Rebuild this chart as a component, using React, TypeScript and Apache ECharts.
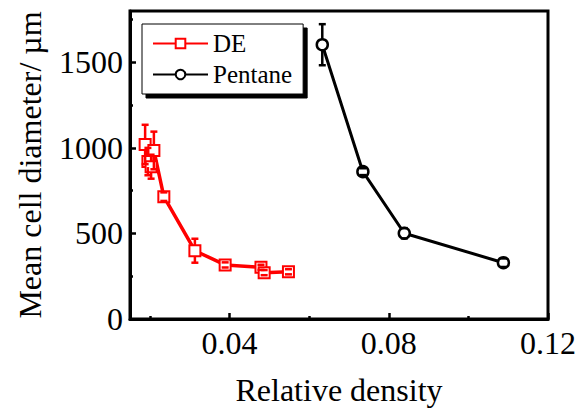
import React, { useEffect, useRef } from "react";
import * as echarts from "echarts";

// DE series (red squares)
const deX = [0.0188, 0.0195, 0.0203, 0.021, 0.0235, 0.0313, 0.0389, 0.0479, 0.0487, 0.0548];
const deY = [1020, 920, 890, 985, 715, 399, 316, 302, 271, 276];
const deErr = [115, 80, 70, 110, 25, 70, 15, 15, 15, 15];
// Pentane series (black circles)
const peX = [0.0633, 0.0735, 0.0839, 0.1088];
const peY = [1603, 861, 501, 329];
const peErr = [120, 20, 30, 25];
// ticks
const xLabels = [0.04, 0.08, 0.12];
const xMinor = [0.02, 0.06, 0.1];
const yLabels = [0, 500, 1000, 1500];
const yMinor = [250, 750, 1250, 1750];

const FONT = "'Times New Roman', 'Liberation Serif', serif";

function errSeries(xs: number[], ys: number[], es: number[], color: string) {
  return {
    type: "custom",
    z: 5,
    silent: true,
    encode: { x: 0, y: 1 },
    data: xs.map((x, i) => [x, ys[i], es[i]]),
    renderItem: (params: any, api: any) => {
      const x = api.value(0);
      const y = api.value(1);
      const e = api.value(2);
      const c = api.coord([x, y]);
      const t = api.coord([x, y + e]);
      const b = api.coord([x, y - e]);
      const half = 5.5;
      const cap = 3.5;
      const st = { stroke: color, lineWidth: 2.5 };
      const children: any[] = [];
      if (t[1] < c[1] - half) {
        children.push({ type: "line", shape: { x1: c[0], y1: t[1], x2: c[0], y2: c[1] - half }, style: st });
      }
      if (b[1] > c[1] + half) {
        children.push({ type: "line", shape: { x1: c[0], y1: c[1] + half, x2: c[0], y2: b[1] }, style: st });
      }
      children.push({ type: "line", shape: { x1: c[0] - cap, y1: t[1], x2: c[0] + cap, y2: t[1] }, style: st });
      children.push({ type: "line", shape: { x1: c[0] - cap, y1: b[1], x2: c[0] + cap, y2: b[1] }, style: st });
      return { type: "group", children };
    },
  };
}

export default function App() {
  const ref = useRef<HTMLDivElement>(null);
  useEffect(() => {
    if (!ref.current) return;
    const chart = echarts.init(ref.current, null, { renderer: "svg" });
    chart.setOption({
      animation: false,
      backgroundColor: "#fff",
      textStyle: { fontFamily: FONT },
      grid: {
        left: 130,
        top: 11,
        width: 418,
        height: 308,
        show: true,
        borderColor: "#000",
        borderWidth: 3,
        containLabel: false,
        outerBoundsMode: "none",
      },
      legend: {
        data: ["DE", "Pentane"],
        orient: "vertical",
        left: 142,
        top: 24,
        padding: [7, 11, 7, 10],
        itemGap: 6,
        itemWidth: 55,
        itemHeight: 12,
        textStyle: { fontFamily: FONT, fontSize: 25, fontWeight: "normal", color: "#000" },
        backgroundColor: "#fff",
        borderColor: "#000",
        borderWidth: 1,
        shadowColor: "#000",
        shadowBlur: 0,
        shadowOffsetX: 4,
        shadowOffsetY: 4,
      },
      xAxis: [
        {
          type: "value",
          min: 0.015,
          max: 0.12,
          position: "bottom",
          axisLine: { onZero: false, lineStyle: { color: "#000", width: 3 } },
          axisTick: { inside: true, length: 6, lineStyle: { color: "#000", width: 2.5 }, customValues: xLabels },
          axisLabel: {
            fontFamily: FONT,
            fontSize: 32,
            fontWeight: "normal",
            color: "#000",
            margin: 8,
            customValues: xLabels,
            formatter: (v: number) => v.toFixed(2),
          },
          splitLine: { show: false },
          name: "Relative density",
          nameLocation: "middle",
          nameGap: 55,
          nameMoveOverlap: false,
          nameTextStyle: { fontFamily: FONT, fontSize: 32, color: "#000" },
        },
        {
          type: "value",
          min: 0.015,
          max: 0.12,
          position: "bottom",
          axisLine: { show: false, onZero: false },
          axisTick: { inside: true, length: 3, lineStyle: { color: "#000", width: 2.5 }, customValues: xMinor },
          axisLabel: { show: false },
          splitLine: { show: false },
        },
      ],
      yAxis: [
        {
          type: "value",
          min: 0,
          max: 1800,
          position: "left",
          axisLine: { onZero: false, lineStyle: { color: "#000", width: 3 } },
          axisTick: { inside: true, length: 6, lineStyle: { color: "#000", width: 2.5 }, customValues: yLabels },
          axisLabel: {
            fontFamily: FONT,
            fontSize: 32,
            fontWeight: "normal",
            color: "#000",
            margin: 7,
            customValues: yLabels,
            formatter: (v: number) => String(v),
          },
          splitLine: { show: false },
          name: "Mean cell diameter/ \u00b5m",
          nameLocation: "middle",
          nameGap: 84,
          nameMoveOverlap: false,
          nameTextStyle: { fontFamily: FONT, fontSize: 32, color: "#000" },
        },
        {
          type: "value",
          min: 0,
          max: 1800,
          position: "left",
          axisLine: { show: false, onZero: false },
          axisTick: { inside: true, length: 3, lineStyle: { color: "#000", width: 2.5 }, customValues: yMinor },
          axisLabel: { show: false },
          splitLine: { show: false },
        },
      ],
      series: [
        {
          name: "DE",
          type: "line",
          z: 3,
          data: deX.map((x, i) => [x, deY[i]]),
          symbol: "rect",
          symbolSize: 11,
          showAllSymbol: true,
          lineStyle: { color: "#ff0000", width: 3.5 },
          itemStyle: { color: "#fff", borderColor: "#ff0000", borderWidth: 2 },
        },
        {
          name: "Pentane",
          type: "line",
          z: 3,
          data: peX.map((x, i) => [x, peY[i]]),
          symbol: "circle",
          symbolSize: 11,
          lineStyle: { color: "#000", width: 3 },
          itemStyle: { color: "#fff", borderColor: "#000", borderWidth: 2.5 },
        },
        errSeries(deX, deY, deErr, "#ff0000"),
        errSeries(peX, peY, peErr, "#000"),
      ],
    });
    return () => chart.dispose();
  }, []);
  return <div ref={ref} style={{ position: "fixed", left: 0, top: 0, width: 579, height: 411 }} />;
}
